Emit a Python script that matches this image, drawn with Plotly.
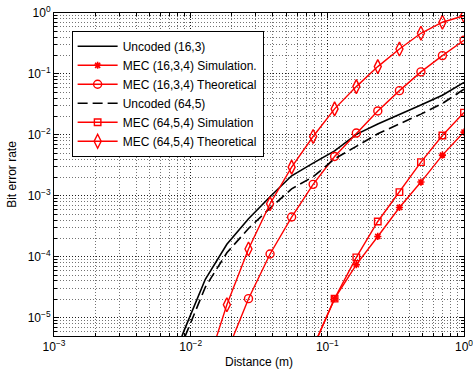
import plotly.graph_objects as go

# Distance grid (m)
distance = [1.0, 0.695, 0.484, 0.337, 0.234, 0.163, 0.113, 0.0787, 0.0548,
            0.0381, 0.0265, 0.0184, 0.0128, 0.0089, 0.0062]

# Uncoded curves (no markers)
uncoded_16_3 = [0.0726, 0.0446, 0.0308, 0.0215, 0.0151, 0.0102, 0.00547, 0.00344,
                0.00213, 9.64e-4, 4.20e-4, 1.60e-4, 4.26e-5, 5.96e-6, 6.6e-7]
uncoded_64_5 = [0.0561, 0.0328, 0.0219, 0.0150, 0.0104, 0.00648, 0.00404, 0.00205,
                0.00130, 6.28e-4, 2.91e-4, 1.16e-4, 3.17e-5, 4.36e-6, 4.5e-7]

# MEC curves
mec_16_sim = [0.0111, 0.00465, 0.00168, 6.43e-4, 2.15e-4, 7.4e-5, 2.05e-5, 3.25e-6]
mec_16_theo = [0.357, 0.20, 0.108, 0.0532, 0.0247, 0.0107, 0.00441, 0.00154,
               4.48e-4, 1.11e-4, 2.05e-5, 2.7e-6]
mec_64_sim = [0.0232, 0.00975, 0.00357, 0.00115, 3.79e-4, 9.75e-5, 2.05e-5, 3.25e-6]
mec_64_theo = [0.90, 0.705, 0.465, 0.257, 0.132, 0.0619, 0.0267, 0.0094,
               0.00295, 7.4e-4, 1.34e-4, 1.63e-5, 1.3e-6]

labels = ["Uncoded (16,3)", "MEC (16,3,4) Simulation.", "MEC (16,3,4) Theoretical",
          "Uncoded (64,5)", "MEC (64,5,4) Simulation", "MEC (64,5,4) Theoretical"]

x_tick_vals = [1e-3, 1e-2, 1e-1, 1]
x_tick_text = ["10<sup>−3</sup>", "10<sup>−2</sup>", "10<sup>−1</sup>", "10<sup>0</sup>"]
y_tick_vals = [1e-5, 1e-4, 1e-3, 1e-2, 1e-1, 1]
y_tick_text = ["10<sup>−5</sup>", "10<sup>−4</sup>", "10<sup>−3</sup>", "10<sup>−2</sup>",
               "10<sup>−1</sup>", "10<sup>0</sup>"]

RED = "#ff0000"
fig = go.Figure()

fig.add_trace(go.Scatter(x=distance[:len(uncoded_16_3)], y=uncoded_16_3, mode="lines",
                         name=labels[0], line=dict(color="black", width=1.6)))
fig.add_trace(go.Scatter(x=distance[:len(mec_16_sim)], y=mec_16_sim, mode="lines+markers",
                         name=labels[1], line=dict(color=RED, width=1.4),
                         marker=dict(symbol="asterisk-open", size=6,
                                     line=dict(color=RED, width=1.6))))
fig.add_trace(go.Scatter(x=distance[:len(mec_16_theo)], y=mec_16_theo, mode="lines+markers",
                         name=labels[2], line=dict(color=RED, width=1.4),
                         marker=dict(symbol="circle-open", size=8, color=RED,
                                     line=dict(color=RED, width=1.4))))
fig.add_trace(go.Scatter(x=distance[:len(uncoded_64_5)], y=uncoded_64_5, mode="lines",
                         name=labels[3], line=dict(color="black", width=1.6, dash="10px,5px")))
fig.add_trace(go.Scatter(x=distance[:len(mec_64_sim)], y=mec_64_sim, mode="lines+markers",
                         name=labels[4], line=dict(color=RED, width=1.4),
                         marker=dict(symbol="square-open", size=6.5, color=RED,
                                     line=dict(color=RED, width=1.4))))
fig.add_trace(go.Scatter(x=distance[:len(mec_64_theo)], y=mec_64_theo, mode="lines+markers",
                         name=labels[5], line=dict(color=RED, width=1.4),
                         marker=dict(symbol="diamond-tall-open", size=10, color=RED,
                                     line=dict(color=RED, width=1.4))))

FONT = "Liberation Sans, Arial, Helvetica, sans-serif"
axis_common = dict(
    type="log", showline=True, linecolor="black", automargin=False,
    ticklabeloverflow="allow",
    linewidth=1, mirror="allticks", ticks="inside", ticklen=5, tickcolor="black",
    showgrid=True, gridcolor="rgba(0,0,0,0.75)", griddash="1px,2px", gridwidth=1,
    tickfont=dict(family=FONT, size=12, color="black"),
    minor=dict(dtick="D1", showgrid=True, gridcolor="rgba(0,0,0,0.55)", griddash="1px,2px",
               ticks="inside", ticklen=3, tickcolor="black"),
)

fig.update_xaxes(range=[-3, 0], tickmode="array", tickvals=x_tick_vals, ticktext=x_tick_text,
                 title=dict(text="Distance (m)", standoff=4,
                            font=dict(family=FONT, size=12, color="black")), **axis_common)
fig.update_yaxes(range=[-5.301, 0], tickmode="array", tickvals=y_tick_vals, ticktext=y_tick_text,
                 title=dict(text="Bit error rate", standoff=8,
                            font=dict(family=FONT, size=12, color="black")), **axis_common)

fig.update_layout(
    width=473, height=378,
    margin=dict(l=54, r=9, t=13, b=42, autoexpand=False),
    paper_bgcolor="white", plot_bgcolor="white",
    font=dict(family=FONT, size=12, color="black"),
    showlegend=True,
    legend=dict(x=0.043, y=0.945, xanchor="left", yanchor="top",
                bgcolor="white", bordercolor="black", borderwidth=1,
                font=dict(family=FONT, size=12, color="black"),
                tracegroupgap=0, itemwidth=40),
)

# Remove the default page margin so the figure fills the window exactly.
fig.write_html("out.html", config={"displayModeBar": False},
               post_script="document.body.style.margin='0';document.body.style.overflow='hidden';")
